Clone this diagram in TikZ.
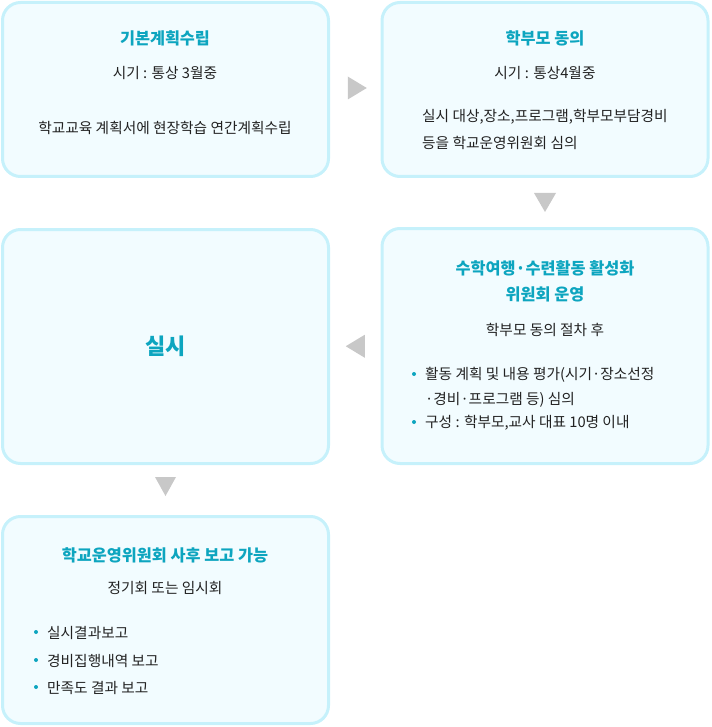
\documentclass[tikz,border=0pt]{standalone}
\usepackage{fontspec}
\setmainfont{Noto Sans CJK KR}
\usetikzlibrary{calc,positioning}
\definecolor{boxline}{HTML}{C6F1FB}
\definecolor{boxfill}{HTML}{F2FCFF}
\definecolor{titleblue}{HTML}{0DA5BF}
\definecolor{bodytext}{HTML}{222222}
\definecolor{arrowgray}{HTML}{C8C8C8}
\begin{document}
\begin{tikzpicture}[x=1pt,y=-1pt,
    stepbox/.style={draw=boxline,fill=boxfill,line width=3pt,rounded corners=18pt,minimum width=326pt},
    title/.style={text=titleblue,font=\fontsize{16.3}{26}\selectfont\bfseries,align=center},
    body/.style={text=bodytext,font=\fontsize{14.7}{20}\selectfont},
    item/.style={body,anchor=west,inner xsep=0pt},
    tri/.style={fill=arrowgray}]
                \useasboundingbox (0,0) rectangle (711,727);
                % boxes
                \node [stepbox,minimum height=174pt] (plan) at (165.5,89.5) {};
                \node [stepbox,minimum height=174pt] (consent) at (545,89.5) {};
                \node [stepbox,minimum height=235pt] (committee) at (545,346) {};
                \node [stepbox,minimum height=234pt] (run) at (165.5,346.5) {};
                \node [stepbox,minimum height=207pt] (report) at (165.5,620) {};
                % texts
                \node [title] (plant) at (165,38) {기본계획수립};
                \node [body] (plana) at (165,73) {시기 : 통상 3월중};
                \node [body] (planb) at (165,128) {학교교육 계획서에 현장학습 연간계획수립};
                \node [title] (consentt) at (545,38) {학부모 동의};
                \node [body] (consenta) at (545,73) {시기 : 통상4월중};
                \node [item] (consentb) at (422,117) {실시 대상,장소,프로그램,학부모부담경비};
                \node [item] (consentc) at (422,143) {등을 학교운영위원회 심의};
                \node [title] (committeet) at (545,281) {수학여행·수련활동 활성화\\위원회 운영};
                \node [body] (committeea) at (545,330) {학부모 동의 절차 후};
                \node [item] (committeeb) at (425,375) {활동 계획 및 내용 평가(시기·장소선정};
                \node [item] (committeec) at (425,400) {·경비·프로그램 등) 심의};
                \node [item] (committeed) at (425,423) {구성 : 학부모,교사 대표 10명 이내};
                \node [title,font=\fontsize{22}{26}\selectfont\bfseries] (runt) at (run) {실시};
                \node [title] (reportt) at (165,555) {학교운영위원회 사후 보고 가능};
                \node [body] (reporta) at (165,588) {정기회 또는 임시회};
                \node [item] (reportb) at (47,633) {실시결과보고};
                \node [item] (reportc) at (47,661) {경비집행내역 보고};
                \node [item] (reportd) at (47,688) {만족도 결과 보고};
                % bullets
                \foreach \i in {committeeb,committeed,reportb,reportc,reportd}
                    \fill [titleblue] ($(\i.west)+(-11,-1)$) circle (2);
                % arrows
                \coordinate (A1) at ($(plan.east)!0.5!(consent.west)+(2,-1.5)$);
                \coordinate (A2) at ($(consent.south)!0.5!(committee.north)$);
                \coordinate (A3) at ($(committee.west)!0.5!(run.east)$);
                \coordinate (A4) at ($(run.south)!0.5!(report.north)+(0,-3.5)$);
                \fill [tri] (A1) ++(-9.5,-11.5) -- ++(19,11.5) -- ++(-19,11.5) -- cycle;
                \fill [tri] (A2) ++(-11,-9.5) -- ++(22,0) -- ++(-11,19) -- cycle;
                \fill [tri] (A3) ++(9.5,-11.5) -- ++(-19,11.5) -- ++(19,11.5) -- cycle;
                \fill [tri] (A4) ++(-10.5,-9.5) -- ++(21,0) -- ++(-10.5,19) -- cycle;
            \end{tikzpicture}
\end{document}
